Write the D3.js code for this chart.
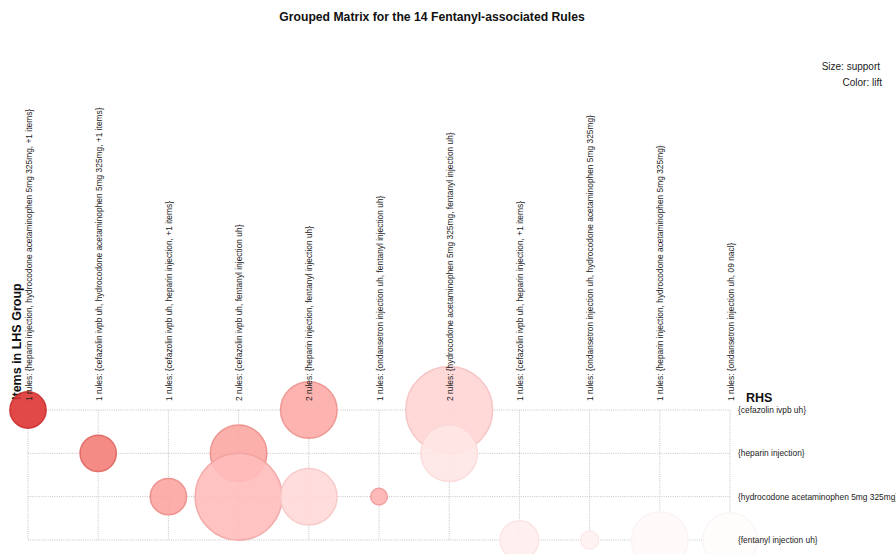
<!DOCTYPE html>
<html>
<head>
<meta charset="utf-8">
<script src="https://cdn.jsdelivr.net/npm/d3@7"></script>
<style>
  html, body { margin: 0; padding: 0; background: #fff; }
  svg { display: block; font-family: "Liberation Sans", Arial, Helvetica, sans-serif; }
</style>
</head>
<body>
<svg id="chart" width="896" height="554"></svg>
<script>
// LHS groups (columns), each labelled with its rule count and most frequent items
const lhsGroups = [
  "1 rules: {heparin injection, hydrocodone acetaminophen 5mg 325mg, +1 items}",
  "1 rules: {cefazolin ivpb uh, hydrocodone acetaminophen 5mg 325mg, +1 items}",
  "1 rules: {cefazolin ivpb uh, heparin injection, +1 items}",
  "2 rules: {cefazolin ivpb uh, fentanyl injection uh}",
  "2 rules: {heparin injection, fentanyl injection uh}",
  "1 rules: {ondansetron injection uh, fentanyl injection uh}",
  "2 rules: {hydrocodone acetaminophen 5mg 325mg, fentanyl injection uh}",
  "1 rules: {cefazolin ivpb uh, heparin injection, +1 items}",
  "1 rules: {ondansetron injection uh, hydrocodone acetaminophen 5mg 325mg}",
  "1 rules: {heparin injection, hydrocodone acetaminophen 5mg 325mg}",
  "1 rules: {ondansetron injection uh, 09 nacl}"
];

// RHS items (rows)
const rhsItems = [
  "{cefazolin ivpb uh}",
  "{heparin injection}",
  "{hydrocodone acetaminophen 5mg 325mg}",
  "{fentanyl injection uh}"
];

// One entry per rule: LHS group index, RHS item index, support, lift
const ruleGroup   = [0, 1, 2, 3, 3, 4, 4, 5, 6, 6, 7, 8, 9, 10];
const ruleRhs     = [0, 1, 2, 1, 2, 0, 2, 2, 0, 1, 3, 3, 3, 3];
const ruleSupport = [0.0054, 0.0054, 0.0054, 0.0131, 0.0310, 0.0131, 0.0131,
                     0.00115, 0.0310, 0.0131, 0.0061, 0.00135, 0.0131, 0.0122];
const ruleLift    = [2.94, 2.30, 1.90, 1.88, 1.66, 1.84, 1.36,
                     1.76, 1.40, 1.22, 1.14, 1.10, 1.02, 1.00];

const titleText = "Grouped Matrix for the 14 Fentanyl-associated Rules";
const legendLines = ["Size: support", "Color: lift"];

const rules = ruleGroup.map((g, i) => ({
  group: g, rhs: ruleRhs[i], support: ruleSupport[i], lift: ruleLift[i]
}));

const svg = d3.select("#chart");

const x = d3.scalePoint().domain(d3.range(lhsGroups.length)).range([28, 730]);
const y = d3.scalePoint().domain(d3.range(rhsItems.length)).range([410, 540]);
const r = d3.scaleSqrt().domain([0, d3.max(ruleSupport)]).range([0, 43.5]);
const liftDomain = [1, 3];
const color = d3.scaleSequential(d3.interpolateHcl("#fffcfc", "#da2c2e"))
  .domain(liftDomain);

// title
svg.append("text")
  .attr("x", 432).attr("y", 21)
  .attr("text-anchor", "middle")
  .attr("font-size", 12.2).attr("font-weight", "bold")
  .attr("fill", "#111")
  .text(titleText);

// legend for the encodings
svg.append("g").selectAll("text").data(legendLines).join("text")
  .attr("x", (d, i) => i === 0 ? 880 : 882)
  .attr("y", (d, i) => 70 + i * 15.5)
  .attr("text-anchor", "end")
  .attr("font-size", 10)
  .attr("fill", "#222")
  .text(d => d);

// axis titles
svg.append("text")
  .attr("transform", "translate(21,400) rotate(-90)")
  .attr("font-size", 12.5).attr("font-weight", "bold")
  .attr("fill", "#111")
  .text("Items in LHS Group");

svg.append("text")
  .attr("x", 746).attr("y", 402)
  .attr("font-size", 12.5).attr("font-weight", "bold")
  .attr("fill", "#111")
  .text("RHS");

// dotted grid
const grid = svg.append("g")
  .attr("stroke", "#c4c4c4")
  .attr("stroke-width", 1)
  .attr("stroke-dasharray", "1,1.2")
  .attr("fill", "none");

grid.selectAll("line.h").data(d3.range(rhsItems.length)).join("line")
  .attr("class", "h")
  .attr("x1", x(0)).attr("x2", x(lhsGroups.length - 1))
  .attr("y1", d => y(d)).attr("y2", d => y(d));

grid.selectAll("line.v").data(d3.range(lhsGroups.length)).join("line")
  .attr("class", "v")
  .attr("x1", d => x(d)).attr("x2", d => x(d))
  .attr("y1", y(0)).attr("y2", y(rhsItems.length - 1));

// bubbles: size = support, colour = lift (lower rows drawn on top)
const bubbleData = rules.slice().sort((a, b) => a.rhs - b.rhs);
svg.append("g").selectAll("circle").data(bubbleData).join("circle")
  .attr("cx", d => x(d.group))
  .attr("cy", d => y(d.rhs))
  .attr("r", d => r(d.support))
  .attr("fill", d => color(d.lift))
  .attr("fill-opacity", 0.9)
  .attr("stroke", d => {
    const t = (d.lift - liftDomain[0]) / (liftDomain[1] - liftDomain[0]);
    return d3.interpolateRgb(color(d.lift), "#a81818")(0.03 + 0.4 * t);
  })
  .attr("stroke-opacity", 0.85)
  .attr("stroke-width", 1.5);

// LHS group labels
svg.append("g").selectAll("text").data(lhsGroups).join("text")
  .attr("transform", (d, i) => `translate(${x(i) + 3.5},401) rotate(-90)`)
  .attr("font-size", 8.4)
  .attr("fill", "#222")
  .text(d => d);

// RHS item labels
svg.append("g").selectAll("text").data(rhsItems).join("text")
  .attr("x", 738)
  .attr("y", (d, i) => y(i) + 3)
  .attr("font-size", 8.4)
  .attr("fill", "#222")
  .text(d => d);
</script>
</body>
</html>
